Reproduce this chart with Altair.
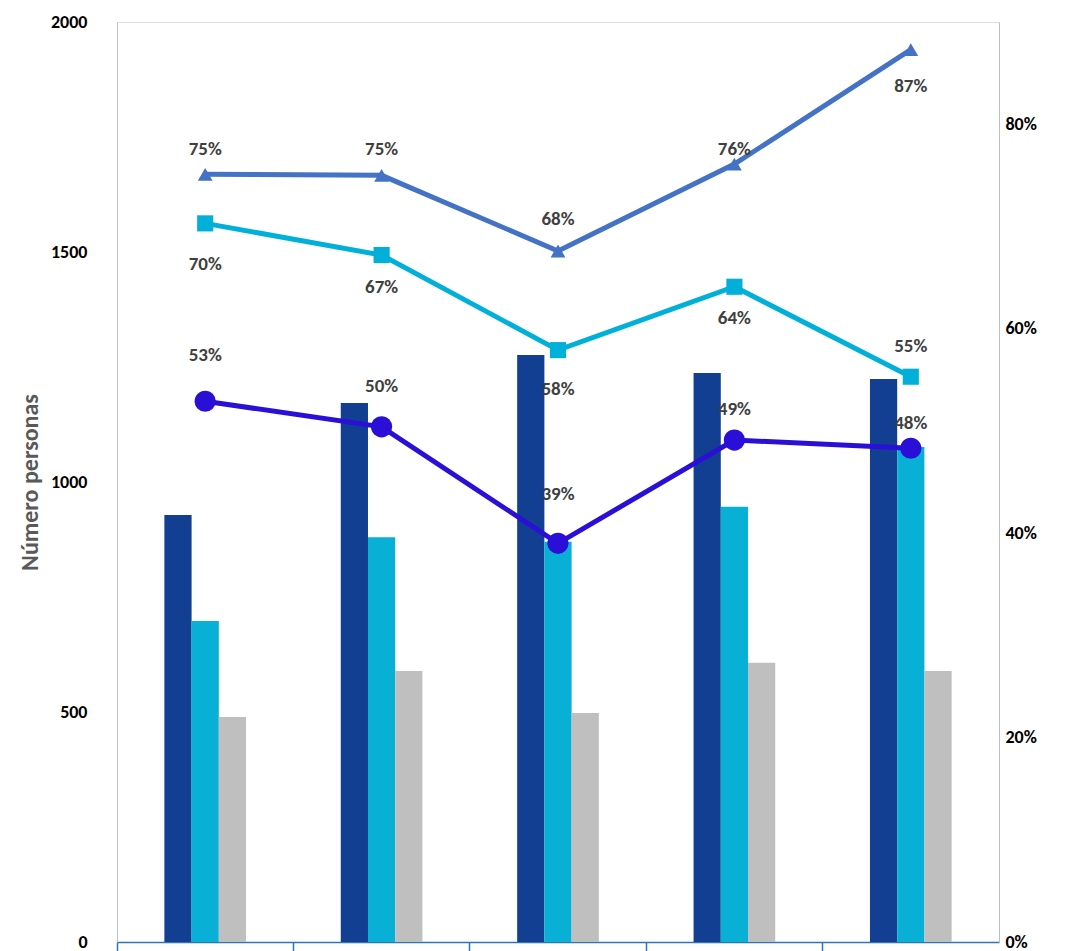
import altair as alt
import pandas as pd

cats = ["G1", "G2", "G3", "G4", "G5"]
bar_series = ["Serie 1", "Serie 2", "Serie 3"]
bar_dark = [928, 1172, 1276, 1237, 1224]
bar_cyan = [698, 880, 870, 946, 1076]
bar_grey = [489, 589, 498, 607, 589]

tri = [0.751, 0.750, 0.676, 0.761, 0.873]
sq = [0.703, 0.672, 0.579, 0.641, 0.553]
circ = [0.529, 0.504, 0.390, 0.491, 0.483]
tri_lbl = ["75%", "75%", "68%", "76%", "87%"]
sq_lbl = ["70%", "67%", "58%", "64%", "55%"]
circ_lbl = ["53%", "50%", "39%", "49%", "48%"]
tri_ly = [0.776, 0.776, 0.707, 0.776, 0.837]
sq_ly = [0.663, 0.641, 0.541, 0.610, 0.583]
circ_ly = [0.574, 0.544, 0.438, 0.521, 0.508]

rows = []
for i, c in enumerate(cats):
    for s, v in zip(bar_series, [bar_dark[i], bar_cyan[i], bar_grey[i]]):
        rows.append({"cat": c, "serie": s, "v": v})
bars_df = pd.DataFrame(rows)

xenc = alt.X("cat:N", sort=cats, title=None,
             scale=alt.Scale(paddingInner=0, paddingOuter=0),
             axis=alt.Axis(labels=False, bandPosition=0, domainColor="#2e75b6",
                           tickColor="#2e75b6", tickSize=10, domainWidth=1.5, tickWidth=1.5))

bars = alt.Chart(bars_df).mark_bar().encode(
    x=xenc,
    xOffset=alt.XOffset("serie:N",
                        scale=alt.Scale(domain=["_a"] + bar_series + ["_b"],
                                        paddingInner=0, paddingOuter=0.74)),
    y=alt.Y("v:Q", scale=alt.Scale(domain=[0, 2000]), title="Número personas",
            axis=alt.Axis(values=[0, 500, 1000, 1500, 2000], format="d", ticks=False, labelFontWeight="bold",
                          labelFontSize=18, labelColor="black", labelPadding=30,
                          titleFontSize=24, titleColor="#595959", titleFontWeight="bold",
                          domainColor="#bfbfbf", titlePadding=8, grid=False)),
    color=alt.Color("serie:N", sort=bar_series, legend=None,
                    scale=alt.Scale(domain=bar_series, range=["#123f91", "#08b0d6", "#bfbfbf"])),
)

yr = alt.Y("p:Q", scale=alt.Scale(domain=[0, 0.9]), title=None,
           axis=alt.Axis(orient="right", values=[0, 0.2, 0.4, 0.6, 0.8], format=".0%", ticks=False,
                         labelFontWeight="bold", labelFontSize=18, labelColor="black",
                         domainColor="#bfbfbf", labelPadding=6, grid=False))

def series(vals, lbls, lys, color, shape, size):
    df = pd.DataFrame({"cat": cats, "p": vals, "lbl": lbls, "ly": lys})
    base = alt.Chart(df)
    line = base.mark_line(color=color, strokeWidth=5).encode(x=alt.X("cat:N", sort=cats), y=yr)
    pts = base.mark_point(color=color, fill=color, filled=True, shape=shape, size=size, opacity=1).encode(
        x=alt.X("cat:N", sort=cats), y=yr)
    txt = base.mark_text(color="#404040", fontWeight="bold", fontSize=19).encode(
        x=alt.X("cat:N", sort=cats), y=alt.Y("ly:Q"), text="lbl:N")
    return [line, pts, txt]

lines = alt.layer(*(series(tri, tri_lbl, tri_ly, "#4472c4", "triangle-up", 220)
                    + series(sq, sq_lbl, sq_ly, "#00b0d8", "square", 260)
                    + series(circ, circ_lbl, circ_ly, "#2a10d6", "circle", 450)))

chart = alt.layer(bars, lines).resolve_scale(y="independent").properties(
    width=882, height=920, padding={"left": 10, "top": 5, "right": 5, "bottom": 5}
).configure_view(stroke=None).configure_axis(grid=False).configure(font="Calibri, Liberation Sans, sans-serif")

chart.save("out.html", embed_options={"renderer": "svg", "actions": False})
